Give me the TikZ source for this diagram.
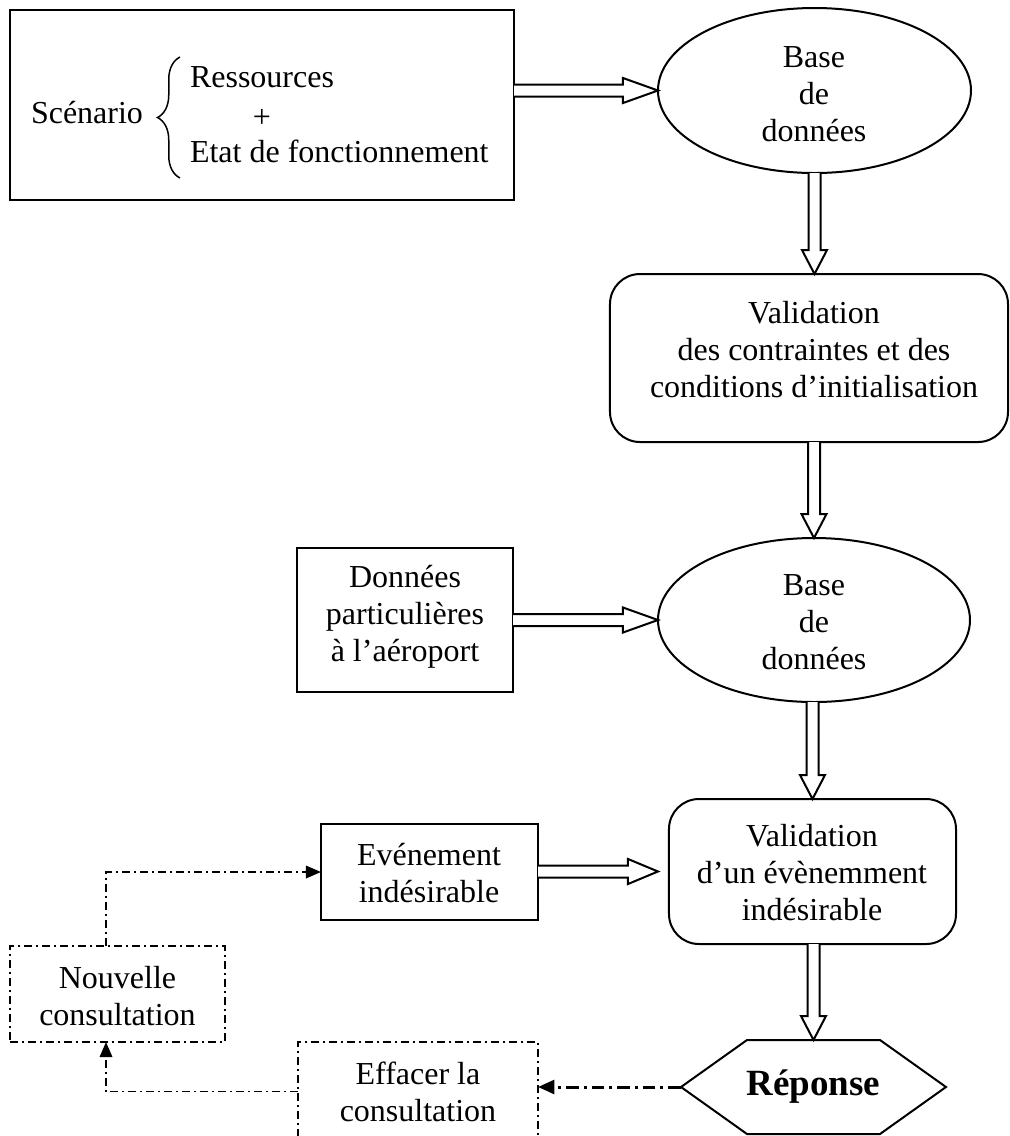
\documentclass[tikz,border=0pt]{standalone}
\usepackage{fontspec}
\setmainfont{Liberation Serif}
\usetikzlibrary{arrows.meta,shapes.geometric,decorations.pathreplacing,calc}

\tikzset{
  every node/.style={inner sep=0pt, outer sep=0pt},
  txt/.style={align=center, font=\fontsize{12.8}{14.8}\selectfont},
  solidbox/.style={draw, line width=0.8pt, rectangle},
  roundbox/.style={draw, line width=0.8pt, rectangle, rounded corners=12pt},
  dbell/.style={draw, line width=0.8pt, ellipse},
  dashbox/.style={draw, line width=0.7pt, rectangle,
    dash pattern=on 3.2pt off 1.6pt on 0.8pt off 1.6pt},
  dashlink/.style={line width=0.7pt,
    dash pattern=on 3.2pt off 1.6pt on 0.8pt off 1.6pt,
    -{Triangle[length=6pt,width=5pt]}},
  dashlinkthick/.style={line width=1.2pt,
    dash pattern=on 5pt off 2pt on 1.2pt off 2pt,
    -{Triangle[length=6.5pt,width=5.5pt]}},
  fatarrow/.style={draw, fill=white, line width=0.8pt, line join=miter},
}

% hollow block arrow pointing right: source, target, head length, gap before target
\newcommand{\fatright}[4]{%
  \draw[fatarrow] let \p1=(#1), \p2=(#2) in
    (\x1,\y2+2.4pt) -- (\x2-#4-#3,\y2+2.4pt) -- (\x2-#4-#3,\y2+5pt)
    -- (\x2-#4,\y2) -- (\x2-#4-#3,\y2-5pt) -- (\x2-#4-#3,\y2-2.4pt)
    -- (\x1,\y2-2.4pt);}
% hollow block arrow pointing down: source, target, head length
\newcommand{\fatdown}[3]{%
  \draw[fatarrow] let \p1=(#1), \p2=(#2) in
    (\x2-2.4pt,\y1) -- (\x2-2.4pt,\y2+#3) -- (\x2-5pt,\y2+#3)
    -- (\x2,\y2) -- (\x2+5pt,\y2+#3) -- (\x2+2.4pt,\y2+#3)
    -- (\x2+2.4pt,\y1);}

\begin{document}
\begin{tikzpicture}[x=0.4pt, y=-0.4pt]
  \useasboundingbox (0,0) rectangle (1010,1136);
  \clip (0,0) rectangle (1010,1136);

  % scenario box with brace
  \node[solidbox, minimum width=201.6pt, minimum height=76pt] (scen) at (262,105) {};
  \node[txt, anchor=base west] (scenlbl) at (31,123) {Scénario};
  \node[txt, anchor=base west] (res) at (190,87) {Ressources};
  \node[txt] (plus) at (262,118) {+};
  \node[txt, anchor=base west] (etat) at (190,162) {Etat de fonctionnement};
  \draw[line width=0.6pt, decorate, decoration={brace, amplitude=9pt}]
    (180,178) -- (180,57);

  % first database
  \node[dbell, minimum width=125.2pt, minimum height=66pt] (db1) at (814.5,90.5) {};
  \node[txt] (db1t) at (814,94) {Base\\de\\données};

  % validation of constraints
  \node[roundbox, minimum width=159.2pt, minimum height=67.2pt] (valid1) at (809,358) {};
  \node[txt] (valid1t) at (814,350) {Validation\\des contraintes et des\\conditions d’initialisation};

  % second database
  \node[dbell, minimum width=124.8pt, minimum height=65.6pt] (db2) at (814,620) {};
  \node[txt] (db2t) at (814,622) {Base\\de\\données};

  % airport data
  \node[solidbox, minimum width=86.4pt, minimum height=57.6pt] (donnees) at (405,620) {};
  \node[txt] (donneest) at (405,617) {Données\\particulières\\à l’aéroport};

  % undesirable event
  \node[solidbox, minimum width=86.8pt, minimum height=38.4pt] (even) at (429.5,872) {};
  \node[txt] (event) at (429,873) {Evénement\\indésirable};

  % validation of an undesirable event
  \node[roundbox, minimum width=114.8pt, minimum height=58pt] (valid2) at (812.5,871.5) {};
  \node[txt] (valid2t) at (812,873) {Validation\\d’un évènemment\\indésirable};

  % answer hexagon
  \node[minimum width=106pt, minimum height=37.6pt,
        font=\fontsize{14.8}{16}\selectfont\bfseries] (resp) at (813.5,1087) {Réponse};
  \draw[line width=0.8pt, line join=miter]
    (resp.west) -- ([xshift=26.4pt]resp.north west) -- ([xshift=-26.4pt]resp.north east)
    -- (resp.east) -- ([xshift=-26.4pt]resp.south east) -- ([xshift=26.4pt]resp.south west)
    -- cycle;

  % dash-dot boxes
  \node[dashbox, minimum width=86pt, minimum height=38.4pt] (nouv) at (117.5,994) {};
  \node[txt] (nouvt) at (117.5,996) {Nouvelle\\consultation};
  \node[dashbox, minimum width=96pt, minimum height=39.6pt] (eff) at (418,1091.5) {};
  \node[txt] (efft) at (418,1092) {Effacer la\\consultation};

  % hollow block arrows
  \fatright{scen.east}{db1.west}{14pt}{0pt}
  \fatright{donnees.east}{db2.west}{14pt}{0pt}
  \fatright{even.east}{valid2.west}{12pt}{4.4pt}
  \fatdown{db1.south}{valid1.north -| db1.south}{9.6pt}
  \fatdown{valid1.south}{db2.north}{9.6pt}
  \fatdown{db2.south}{valid2.north}{9.6pt}
  \fatdown{valid2.south}{resp.north}{9.6pt}

  % dash-dot feedback loop
  \coordinate (loopx) at (106,1090);
  \draw[dashlinkthick] (resp.west) -- (resp.west -| eff.east);
  \draw[dashlink] (eff.west) -- (eff.west -| loopx) -- (loopx |- nouv.south);
  \draw[dashlink] (loopx |- nouv.north) -- (loopx |- even.west) -- (even.west);
\end{tikzpicture}
\end{document}
